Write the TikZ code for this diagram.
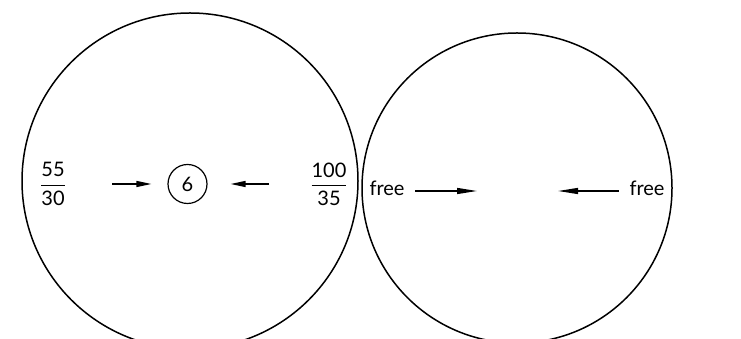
\documentclass[tikz,border=0pt]{standalone}
\usepackage{amsmath}
\usepackage{fontspec}
\setmainfont{Lato}
\usetikzlibrary{arrows.meta}

\begin{document}
\begin{tikzpicture}[
  x=1pt, y=1pt,
  font=\fontsize{20}{24}\selectfont,
  ring/.style={line width=1.5pt},
  push/.style={-{Triangle[length=15pt,width=6pt]}, line width=1.3pt},
  pushlong/.style={-{Triangle[length=20pt,width=6pt]}, line width=1.3pt}
]
  \useasboundingbox (0,0) rectangle (741,339);
  \clip (0,0) rectangle (741,339);

  % the two wheels
  \draw[ring] (190,158) circle[radius=168];
  \draw[ring] (517,151) circle[radius=155];

  % left wheel
  \node (lfrac) at (53,155) {$\dfrac{\text{55}}{\text{30}}$};
  \node[draw, circle, line width=1.2pt, minimum size=39pt, inner sep=0pt] (six) at (187.5,155) {6};
  \node (rfrac) at (329,155) {$\dfrac{\text{100}}{\text{35}}$};
  \coordinate (lin) at (112,155);
  \coordinate (rin) at (269,155);
  \draw[push, shorten >=16pt] (lin) -- (six);
  \draw[push, shorten >=23pt] (rin) -- (six);

  % right wheel
  \node (lfree) at (387,151) {free};
  \node (rfree) at (647,151) {free};
  \coordinate (lgoal) at (477,148);
  \coordinate (rgoal) at (558,148);
  \draw[pushlong] (lfree.east) ++(7,-3) -- (lgoal);
  \draw[pushlong] (rfree.west) ++(-7,-3) -- (rgoal);
\end{tikzpicture}
\end{document}
